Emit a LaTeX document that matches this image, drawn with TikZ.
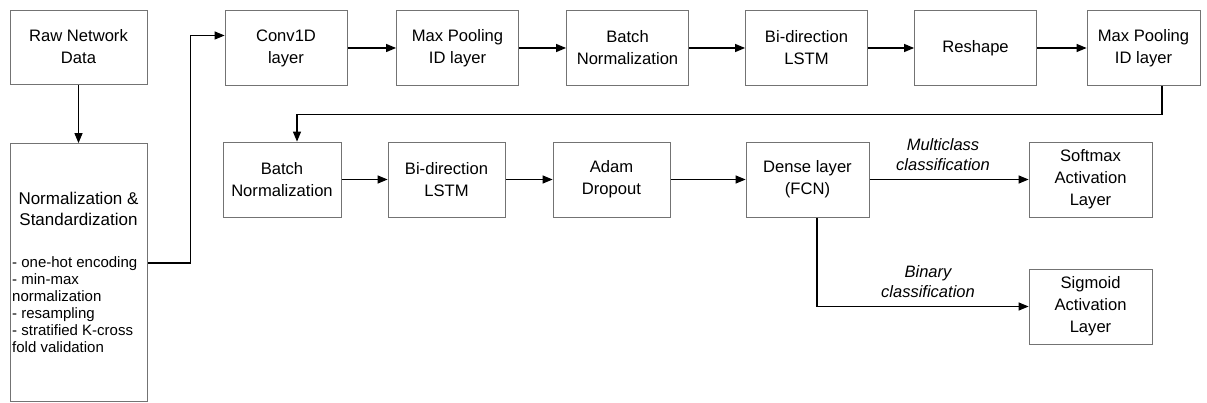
\documentclass[tikz,border=0pt]{standalone}
\usepackage{fontspec}
\setmainfont{Liberation Sans}
\usetikzlibrary{arrows.meta}
\pgfdeclarelayer{bg}
\pgfsetlayers{bg,main}
\tikzset{
    every node/.style={inner sep=0mm, align=center, font=\fontsize{16.6}{22}\selectfont}
}
\tikzset{box/.style={draw=black!55, line width=.8pt, minimum width=122pt, minimum height=75pt}}
\tikzset{flow/.style={draw, line width=1.2pt, -{Triangle[length=10pt,width=8pt]}}}
\tikzset{tag/.style={font=\fontsize{16.5}{20}\selectfont\itshape}}

\begin{document}
\begin{tikzpicture}[x=1pt, y=-1pt]
    \useasboundingbox (0,0) rectangle (1207,403);

    \node (raw) [box, minimum width=137pt, minimum height=74pt] at (78.5, 47) {Raw Network\\Data};
    \node (norm) [box, minimum width=137pt, minimum height=258pt] at (78.5, 272.5) {};
    \node (normt) [font=\fontsize{17}{21}\selectfont] at (78.5, 209) {Normalization \&\\Standardization};
    \node (normb) [anchor=west, align=left, font=\fontsize{15}{17}\selectfont] at (12, 305)
        {- one-hot encoding\\- min-max\\normalization\\- resampling\\- stratified K-cross\\fold validation};

    \node (conv) [box] at (286, 48) {Conv1D\\layer};
    \node (pool1) [box] at (457.5, 48) {Max Pooling\\ID layer};
    \node (bn1) [box] at (627.5, 48) {Batch\\Normalization};
    \node (lstm1) [box] at (806.5, 48) {Bi-direction\\LSTM};
    \node (resh) [box] at (975.5, 48) {Reshape};
    \node (pool2) [box, minimum width=113pt] at (1143.5, 48) {Max Pooling\\ID layer};

    \node (bn2) [box, minimum width=118pt] at (282, 179.5) {Batch\\Normalization};
    \node (lstm2) [box, minimum width=117pt] at (446.5, 179.5) {Bi-direction\\LSTM};
    \node (drop) [box, minimum width=117pt] at (611.5, 179.5) {Adam\\Dropout};
    \node (dense) [box, minimum width=123pt] at (807.5, 179.5) {Dense layer\\(FCN)};
    \node (soft) [box, minimum width=123pt] at (1090.5, 179.5) {Softmax\\Activation\\Layer};
    \node (sigm) [box, minimum width=123pt] at (1090.5, 306.5) {Sigmoid\\Activation\\Layer};

    \node (multi) [tag] at (943, 155) {Multiclass\\classification};
    \node (bin) [tag] at (928, 282) {Binary\\classification};

    \begin{pgfonlayer}{bg}
        \draw[flow] (raw) -- (norm);
        \draw[flow] ([yshift=9.5pt]norm.east) -- ++(43,0) |- ([yshift=12.5pt]conv.west);

        \draw[flow] (conv) -- (pool1);
        \draw[flow] (pool1) -- (bn1);
        \draw[flow] (bn1) -- (lstm1);
        \draw[flow] (lstm1) -- (resh);
        \draw[flow] (resh) -- (pool2);

        \draw[flow] ([xshift=18.5pt]pool2.south) -- ++(0,29) -| ([xshift=15pt]bn2.north);

        \draw[flow] (bn2) -- (lstm2);
        \draw[flow] (lstm2) -- (drop);
        \draw[flow] (drop) -- (dense);
        \draw[flow] (dense) -- (soft);
        \draw[flow] ([xshift=9.5pt]dense.south) |- (sigm.west);
    \end{pgfonlayer}
\end{tikzpicture}
\end{document}
